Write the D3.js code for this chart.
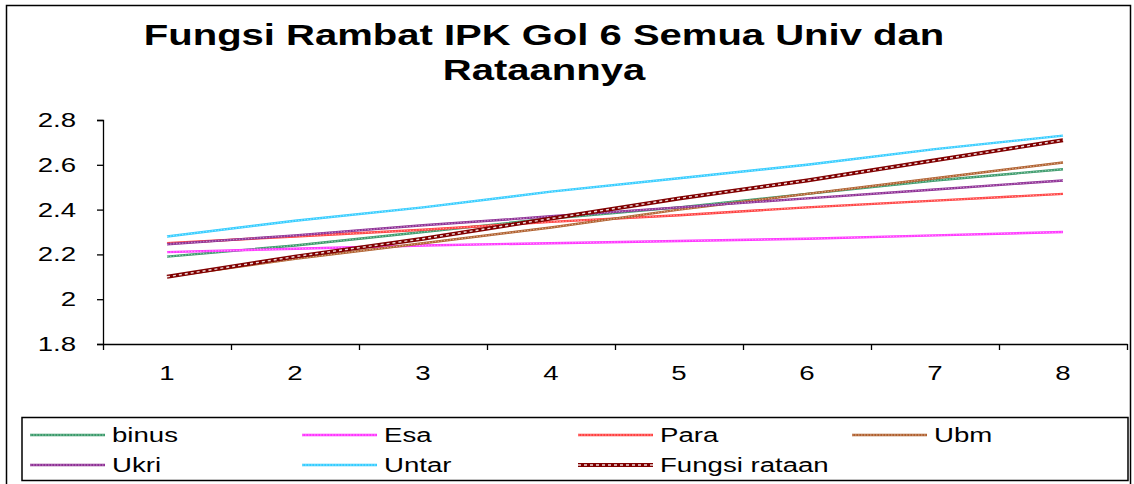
<!DOCTYPE html>
<html>
<head>
  <meta charset="utf-8" />
  <script src="https://cdn.jsdelivr.net/npm/d3@7"></script>
  <style>
    body { margin: 0; background: #fff; }
    text { font-family: Arial, "Liberation Sans", sans-serif; fill: #000; }
    .title { font-size: 29px; font-weight: bold; }
  </style>
</head>
<body>
  <svg id="chart" width="1134" height="484"></svg>
  <script>
  // categories on the x axis
  var categories = [1, 2, 3, 4, 5, 6, 7, 8]
  var yTicks = [1.8, 2, 2.2, 2.4, 2.6, 2.8]

  // series values
  var binus  = [2.19, 2.24, 2.30, 2.36, 2.41, 2.47, 2.53, 2.58]
  var esa    = [2.21, 2.225, 2.24, 2.25, 2.26, 2.27, 2.285, 2.30]
  var para   = [2.25, 2.28, 2.31, 2.345, 2.375, 2.41, 2.44, 2.47]
  var ubm    = [2.10, 2.18, 2.25, 2.32, 2.40, 2.47, 2.54, 2.61]
  var ukri   = [2.245, 2.285, 2.33, 2.37, 2.41, 2.45, 2.49, 2.53]
  var untar  = [2.28, 2.35, 2.41, 2.48, 2.54, 2.60, 2.67, 2.73]
  var rataan = [2.10, 2.19, 2.27, 2.36, 2.45, 2.53, 2.62, 2.71]

  var seriesNames = ['binus', 'Esa', 'Para', 'Ubm', 'Ukri', 'Untar', 'Fungsi rataan']
  var seriesData = [binus, esa, para, ubm, ukri, untar, rataan]
  var seriesColors = ['#3a9a6a', '#ff33ff', '#ff4040', '#b0602e', '#8e2f95', '#33ccff', '#800000']

  var series = seriesNames.map((name, i) => ({
    name: name, values: seriesData[i], color: seriesColors[i], bold: name === 'Fungsi rataan'
  }))

  // the original chart is stretched sideways, so the text is too
  var SX = 1.38

  var svg = d3.select('#chart')

  // helper: put a stretched text at x,y
  function label(parent, tx, ty, str, size, anchor) {
    return parent.append('text')
       .attr('transform', 'translate(' + tx + ',' + ty + ') scale(' + SX + ',1)')
       .attr('text-anchor', anchor || 'start')
       .attr('font-size', size)
       .text(str)
  }

  // outer chart border
  svg.append('rect')
     .attr('x', 6.5).attr('y', 5.5)
     .attr('width', 1124).attr('height', 490)
     .attr('fill', 'none').attr('stroke', '#000').attr('stroke-width', 1.5)

  // title
  label(svg, 544, 45, 'Fungsi Rambat IPK Gol 6 Semua Univ dan', 29, 'middle').attr('font-weight', 'bold')
  label(svg, 544, 80, 'Rataannya', 29, 'middle').attr('font-weight', 'bold')

  var x = d3.scaleLinear().domain([0.5, 8.5]).range([103, 1127])
  var y = d3.scaleLinear().domain([1.8, 2.8]).range([344, 120])

  // y axis
  var yAxis = svg.append('g')
     .attr('transform', 'translate(103,0)')
     .call(d3.axisLeft(y).tickValues(yTicks).tickSize(6).tickFormat(''))
  yAxis.select('.domain').attr('stroke', '#000').attr('stroke-width', 1.3)
  yAxis.selectAll('.tick line').attr('stroke', '#000').attr('stroke-width', 1.3)

  var yLab = svg.append('g')
  yTicks.forEach(t => label(yLab, 76, y(t) + 7, d3.format('')(t), 20, 'end'))

  // x axis: line + ticks at category boundaries
  var xBounds = d3.range(0.5, 8.6, 1)
  var xAxis = svg.append('g')
     .attr('transform', 'translate(0,344)')
     .call(d3.axisBottom(x).tickValues(xBounds).tickSize(6).tickSizeOuter(0).tickFormat(''))
  xAxis.select('.domain').attr('stroke', '#000').attr('stroke-width', 1.3)
  xAxis.selectAll('.tick line').attr('stroke', '#000').attr('stroke-width', 1.3)

  var xLab = svg.append('g')
  categories.forEach(c => label(xLab, x(c), 380, c, 20, 'middle'))

  // lines: coloured stroke with a light dotted core, Excel-pattern style
  var line = d3.line()
     .x((d, i) => x(categories[i]))
     .y(d => y(d))

  var lines = svg.append('g')
  series.forEach(s => {
    lines.append('path')
         .attr('d', line(s.values))
         .attr('fill', 'none')
         .attr('stroke', s.color)
         .attr('stroke-width', s.bold ? 4 : 2.4)
    lines.append('path')
         .attr('d', line(s.values))
         .attr('fill', 'none')
         .attr('stroke', '#fff')
         .attr('stroke-opacity', s.bold ? 0.85 : 0.55)
         .attr('stroke-width', s.bold ? 1.4 : 0.9)
         .attr('stroke-dasharray', s.bold ? '3,3' : '1.5,1.5')
  })

  // legend
  svg.append('rect')
     .attr('x', 22).attr('y', 417.5)
     .attr('width', 1106).attr('height', 63)
     .attr('fill', 'none').attr('stroke', '#000').attr('stroke-width', 1.5)

  var legX = [30, 302, 578, 852]
  var legY = [435, 465]
  var leg = svg.append('g').selectAll('g')
     .data(series)
     .enter().append('g')
     .attr('transform', (d, i) => 'translate(' + legX[i % 4] + ',' + legY[Math.floor(i / 4)] + ')')
  leg.append('line')
     .attr('x1', 0).attr('x2', 75).attr('y1', 0).attr('y2', 0)
     .attr('stroke', d => d.color)
     .attr('stroke-width', d => d.bold ? 4 : 2.4)
  leg.append('line')
     .attr('x1', 0).attr('x2', 75).attr('y1', 0).attr('y2', 0)
     .attr('stroke', '#fff')
     .attr('stroke-opacity', d => d.bold ? 0.85 : 0.55)
     .attr('stroke-width', d => d.bold ? 1.4 : 0.9)
     .attr('stroke-dasharray', d => d.bold ? '3,3' : '1.5,1.5')
  leg.each(function(d) { label(d3.select(this), 82, 7, d.name, 20) })
  </script>
</body>
</html>
